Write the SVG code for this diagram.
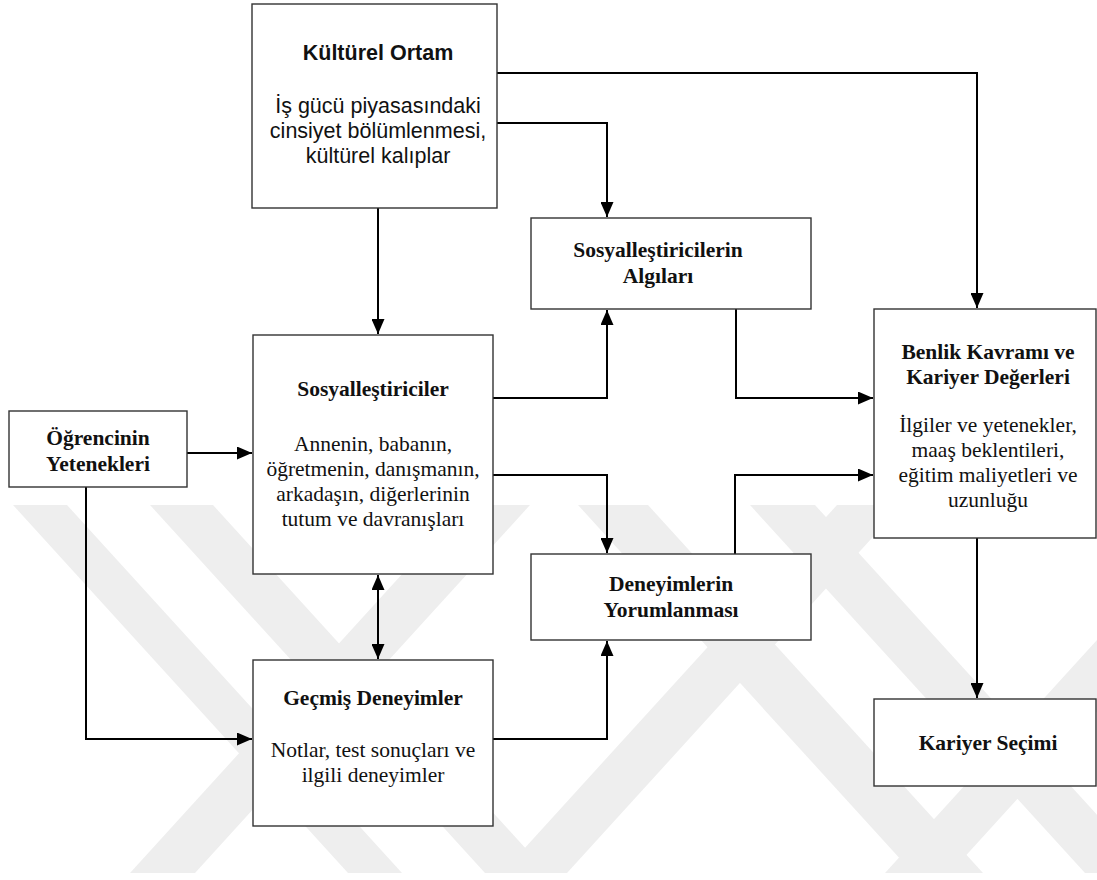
<svg xmlns="http://www.w3.org/2000/svg" width="1097" height="880" viewBox="0 0 1097 880">
<defs>
<style>
.box{fill:#fff;stroke:#333;stroke-width:1.4}
.t{font-family:"Liberation Serif","Times New Roman",serif;font-size:21.5px;fill:#111;text-anchor:middle}
.b{font-weight:bold}
.a{font-family:"Liberation Sans",Arial,sans-serif;font-size:21.5px;fill:#111;text-anchor:middle}
.c{fill:none;stroke:#000;stroke-width:2}
.wm{fill:#eeeeee}
</style>
<clipPath id="wmclip"><rect x="0" y="505" width="1097" height="368"/></clipPath>
<marker id="ah" markerUnits="userSpaceOnUse" markerWidth="15" markerHeight="13" refX="15" refY="6.5" orient="auto">
<path d="M0,0 L15,6.5 L0,13 z" fill="#000"/>
</marker>
<marker id="as" markerUnits="userSpaceOnUse" markerWidth="15" markerHeight="13" refX="0" refY="6.5" orient="auto">
<path d="M15,0 L0,6.5 L15,13 z" fill="#000"/>
</marker>
</defs>
<rect width="1097" height="880" fill="#fff"/>
<g id="watermark" clip-path="url(#wmclip)" class="wm">
<polygon points="13,505 67,505 402,873 348,873"/>
<polygon points="150,505 213,505 548,873 485,873"/>
<polygon points="578,505 648,505 983,873 913,873"/>
<polygon points="750,505 815,505 1150,873 1085,873"/>
<polygon points="130,873 195,873 530,505 465,505"/>
<polygon points="502,873 567,873 902,505 837,505"/>
<polygon points="885,873 950,873 1285,505 1220,505"/>
</g>
<g id="connectors">
<path class="c" d="M497,73 H977 V308" marker-end="url(#ah)"/>
<path class="c" d="M497,123 H607 V217" marker-end="url(#ah)"/>
<path class="c" d="M378,208 V334" marker-end="url(#ah)"/>
<path class="c" d="M187,453 H252" marker-end="url(#ah)"/>
<path class="c" d="M86,487 V739 H252" marker-end="url(#ah)"/>
<path class="c" d="M493,398 H607 V310" marker-end="url(#ah)"/>
<path class="c" d="M493,475 H607 V553" marker-end="url(#ah)"/>
<path class="c" d="M736,309 V398 H873" marker-end="url(#ah)"/>
<path class="c" d="M735,554 V475 H873" marker-end="url(#ah)"/>
<path class="c" d="M378,575 V659" marker-start="url(#as)" marker-end="url(#ah)"/>
<path class="c" d="M493,739 H607 V641" marker-end="url(#ah)"/>
<path class="c" d="M977,538 V698" marker-end="url(#ah)"/>
</g>
<g id="kulturel">
<rect class="box" x="252" y="4" width="245" height="204"/>
<text class="a b" x="378" y="60">Kültürel Ortam</text>
<text class="a" x="378" y="113">İş gücü piyasasındaki</text>
<text class="a" x="378" y="138">cinsiyet bölümlenmesi,</text>
<text class="a" x="378" y="163">kültürel kalıplar</text>
</g>
<g id="algilari">
<rect class="box" x="531" y="218" width="280" height="91"/>
<text class="t b" x="658" y="257">Sosyalleştiricilerin</text>
<text class="t b" x="658" y="283">Algıları</text>
</g>
<g id="benlik">
<rect class="box" x="874" y="309" width="222" height="229"/>
<text class="t b" x="988" y="359">Benlik Kavramı ve</text>
<text class="t b" x="988" y="384">Kariyer Değerleri</text>
<text class="t" x="988" y="432">İlgiler ve yetenekler,</text>
<text class="t" x="988" y="457">maaş beklentileri,</text>
<text class="t" x="988" y="482">eğitim maliyetleri ve</text>
<text class="t" x="988" y="507">uzunluğu</text>
</g>
<g id="ogrenci">
<rect class="box" x="9" y="411" width="178" height="76"/>
<text class="t b" x="98" y="445">Öğrencinin</text>
<text class="t b" x="98" y="471">Yetenekleri</text>
</g>
<g id="sosyal">
<rect class="box" x="253" y="335" width="240" height="239"/>
<text class="t b" x="373" y="396">Sosyalleştiriciler</text>
<text class="t" x="373" y="451">Annenin, babanın,</text>
<text class="t" x="373" y="476">öğretmenin, danışmanın,</text>
<text class="t" x="373" y="501">arkadaşın, diğerlerinin</text>
<text class="t" x="373" y="526">tutum ve davranışları</text>
</g>
<g id="deneyim">
<rect class="box" x="531" y="554" width="280" height="86"/>
<text class="t b" x="671" y="591">Deneyimlerin</text>
<text class="t b" x="671" y="617">Yorumlanması</text>
</g>
<g id="gecmis">
<rect class="box" x="253" y="660" width="240" height="166"/>
<text class="t b" x="373" y="705">Geçmiş Deneyimler</text>
<text class="t" x="373" y="757">Notlar, test sonuçları ve</text>
<text class="t" x="373" y="782">ilgili deneyimler</text>
</g>
<g id="kariyer">
<rect class="box" x="874" y="699" width="222" height="87"/>
<text class="t b" x="988" y="750">Kariyer Seçimi</text>
</g>
</svg>
